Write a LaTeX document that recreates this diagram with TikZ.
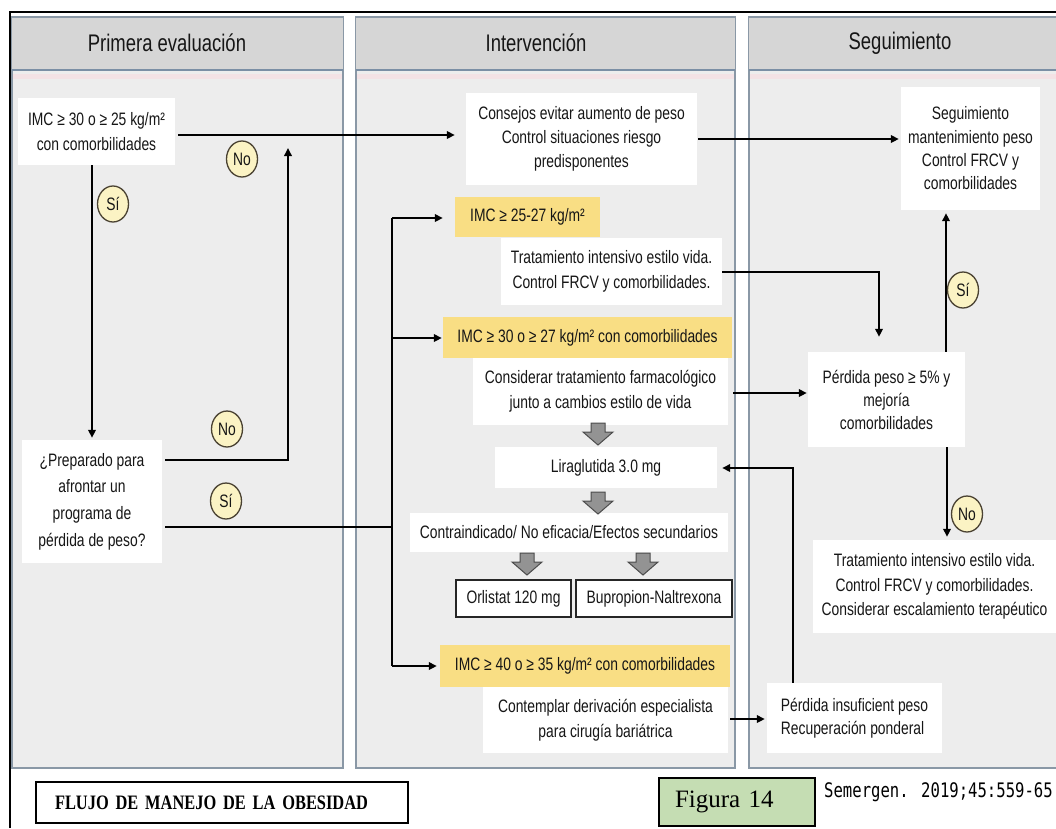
\documentclass[tikz,border=0pt]{standalone}
\usepackage{fontspec}
\setmainfont{Liberation Sans}[FakeStretch=0.77]
\newfontfamily\captionserif{Liberation Serif}
\newfontfamily\captionserifnarrow{Liberation Serif}[FakeStretch=0.8]
\newfontfamily\citemono{DejaVu Sans Mono}[FakeStretch=0.78]
\usetikzlibrary{arrows.meta,shapes.geometric}

\definecolor{colfill}{HTML}{EDEDED}
\definecolor{headfill}{HTML}{D6D6D6}
\definecolor{colline}{HTML}{8A98A6}
\definecolor{headline}{HTML}{7B8FA5}
\definecolor{pinkband}{HTML}{F3E2E5}
\definecolor{bmiyellow}{HTML}{F9DE84}
\definecolor{tagfill}{HTML}{FBF3C4}
\definecolor{tagline}{HTML}{4A4232}
\definecolor{figgreen}{HTML}{C5DDB3}
\definecolor{txt}{HTML}{161616}
\definecolor{blockgray}{HTML}{939393}

\tikzset{
  downblock/.pic={
    \draw[draw=black!70, fill=blockgray, line width=1pt]
      (-7,0) -- (7,0) -- (7,9) -- (15,9) -- (0,22) -- (-15,9) -- (-7,9) -- cycle;
  }
}

\begin{document}
\begin{tikzpicture}[x=1pt,y=-1pt,
  txtbase/.style={font=\fontsize{18}{24}\selectfont, text=txt, align=center, inner sep=0pt},
  whitebox/.style={txtbase, fill=white},
  yellowbox/.style={txtbase, fill=bmiyellow},
  drugbox/.style={txtbase, fill=white, draw=black!85, line width=1.3pt},
  tag/.style={ellipse, draw=tagline, fill=tagfill, line width=1.3pt,
    minimum width=31, minimum height=36, inner sep=0pt,
    font=\fontsize{18}{20}\selectfont, text=txt},
  column/.style={fill=colfill, draw=colline, line width=1.3pt},
  header/.style={font=\fontsize{24}{26}\selectfont, text=txt, inner sep=0pt},
  conn/.style={draw=black, line width=1.8pt},
  arr/.style={conn, -{Triangle[length=8pt,width=7.5pt]}}
]
\useasboundingbox (0,0) rectangle (1056,828);
\fill[white] (0,0) rectangle (1056,828);

% three swimlanes with their header bands
\foreach \xa/\xb in {12/343, 356/735, 749/1064}{
  \draw[column] (\xa,17) rectangle (\xb,768);
  \fill[headfill] (\xa,17) rectangle (\xb,70);
  \draw[colline, line width=1.3pt] (\xa,17) -- (\xb,17);
  \draw[pinkband, line width=5pt] ([xshift=1pt]\xa,76) -- ([xshift=-1pt]\xb,76);
  \draw[headline, line width=2pt] (\xa,70) -- (\xb,70);
}
\node[header] (h1) at (167,43) {Primera evaluación};
\node[header] (h2) at (536,43) {Intervención};
\node[header] (h3) at (900,43) {Seguimiento};

% outer frame
\draw[black, line width=2.5pt] (10,828) -- (10,12) -- (1056,12);

% first assessment
\node[whitebox, minimum width=157, minimum height=67, font=\fontsize{18}{25}\selectfont]
  (A) at (96.5,131.5) {IMC ≥ 30 o ≥ 25 kg/m²\\con comorbilidades};
\node[whitebox, minimum width=140, minimum height=123, font=\fontsize{18}{26.7}\selectfont]
  (B) at (92,501.5) {¿Preparado para\\afrontar un\\programa de\\pérdida de peso?};

% intervention
\node[whitebox, minimum width=231, minimum height=92]
  (C) at (581.5,139) {Consejos evitar aumento de peso\\Control situaciones riesgo\\predisponentes};
\node[yellowbox, minimum width=145, minimum height=40]
  (D) at (527.5,217) {IMC ≥ 25-27 kg/m²};
\node[whitebox, minimum width=221, minimum height=67, font=\fontsize{18}{25}\selectfont]
  (E) at (611.5,271.5) {Tratamiento intensivo estilo vida.\\Control FRCV y comorbilidades.};
\node[yellowbox, minimum width=289, minimum height=41]
  (F) at (587.5,337.5) {IMC ≥ 30 o ≥ 27 kg/m² con comorbilidades};
\node[whitebox, minimum width=255, minimum height=67, font=\fontsize{18}{25}\selectfont]
  (G) at (600.5,391.5) {Considerar tratamiento farmacológico\\junto a cambios estilo de vida};
\node[whitebox, minimum width=222, minimum height=41]
  (H) at (606,467.5) {Liraglutida 3.0 mg};
\node[whitebox, minimum width=318, minimum height=39]
  (I) at (569,532.5) {Contraindicado/ No eficacia/Efectos secundarios};
\node[drugbox, minimum width=115, minimum height=37]
  (J) at (513.5,598.5) {Orlistat 120 mg};
\node[drugbox, minimum width=156, minimum height=37]
  (K) at (654,598.5) {Bupropion-Naltrexona};
\node[yellowbox, minimum width=290, minimum height=42]
  (L) at (585,666) {IMC ≥ 40 o ≥ 35 kg/m² con comorbilidades};
\node[whitebox, minimum width=245, minimum height=66, font=\fontsize{18}{25}\selectfont]
  (M) at (605.5,720) {Contemplar derivación especialista\\para cirugía bariátrica};

% block arrows between drug steps
\pic at (598,423) {downblock};
\pic at (598,492) {downblock};
\pic at (527,553) {downblock};
\pic at (643,553) {downblock};

% follow-up
\node[whitebox, minimum width=139, minimum height=123, font=\fontsize{18}{23.3}\selectfont]
  (N) at (970.5,148.5) {Seguimiento\\mantenimiento peso\\Control FRCV y\\comorbilidades};
\node[whitebox, minimum width=157, minimum height=95, font=\fontsize{18}{23}\selectfont]
  (O) at (886.5,399.5) {Pérdida peso ≥ 5\% y\\mejoría\\comorbilidades};
\node[whitebox, minimum width=243, minimum height=93, font=\fontsize{18}{24.5}\selectfont]
  (P) at (934.5,586.5) {Tratamiento intensivo estilo vida.\\Control FRCV y comorbilidades.\\Considerar escalamiento terapéutico};
\node[whitebox, minimum width=175, minimum height=70, align=left, font=\fontsize{18}{23}\selectfont]
  (Q) at (854.5,718) {Pérdida insuficient peso\\Recuperación ponderal};

% junction points of the routed connectors
\coordinate (jTop) at (288,135);
\coordinate (jNo)  at (288,460);
\coordinate (jSi)  at (392,527);
\coordinate (bus1) at (392,218);
\coordinate (bus2) at (392,338);
\coordinate (bus3) at (392,666);
\coordinate (jE)   at (879,272);
\coordinate (jG)   at (800,393);
\coordinate (jUp)  at (946,300);
\coordinate (jDn)  at (947,500);
\coordinate (jQ)   at (793,468);
\coordinate (jM)   at (750,719);

% first assessment connectors
\draw[arr, shorten >=11pt] ([xshift=3pt]A.east |- jTop) -- (C.west |- jTop);
\draw[arr, shorten >=2pt] (A.south -| B.north) -- (B.north);
\draw[arr, shorten >=13pt] ([xshift=3pt]B.east |- jNo) -- (jNo) -- (jTop);
\draw[conn] ([xshift=3pt]B.east |- jSi) -- (jSi);
\draw[conn] (bus1) -- (bus3);
\draw[arr, shorten >=12pt] (bus1) -- (D.west |- bus1);
\draw[arr, shorten >=1pt] (bus2) -- (F.west |- bus2);
\draw[arr, shorten >=3pt] (bus3) -- (L.west |- bus3);

% intervention to follow-up
\draw[arr, shorten >=2pt] ([xshift=1pt]C.east) -- (N.west |- C.east);
\draw[arr, shorten >=15pt] (E.east |- jE) -- (jE) -- (jE |- O.north);
\draw[arr, shorten >=1pt] ([xshift=5pt]G.east |- jG) -- (O.west |- jG);
\draw[arr, shorten >=3pt] (O.north -| jUp) -- (N.south -| jUp);
\draw[arr, shorten >=3pt] (O.south -| jDn) -- (P.north -| jDn);
\draw[arr, shorten >=2pt] ([xshift=2pt]M.east |- jM) -- (Q.west |- jM);
\draw[arr, shorten >=5pt] (Q.north -| jQ) -- (jQ) -- (H.east |- jQ);

% decision tags
\node[tag] (t1) at (113,204) {Sí};
\node[tag] (t2) at (242,159) {No};
\node[tag] (t3) at (227,429) {No};
\node[tag] (t4) at (226,501) {Sí};
\node[tag] (t5) at (963,290) {Sí};
\node[tag] (t6) at (967,514) {No};

% footer
\node[draw=black, line width=1.3pt, fill=white, minimum height=41, text width=334,
  inner xsep=19pt, inner ysep=0pt, align=left,
  font=\captionserifnarrow\bfseries\fontsize{20.5}{22}\selectfont]
  (title) at (222,802.5) {FLUJO DE MANEJO DE LA OBESIDAD};
\node[draw=black, line width=1.3pt, fill=figgreen, minimum height=48, text width=124,
  inner xsep=16pt, inner ysep=0pt, align=left,
  font=\captionserif\fontsize{25}{27}\selectfont]
  (fig) at (737,802) {Figura 14};
\node[anchor=west, inner sep=0pt, font=\citemono\fontsize{20}{22}\selectfont]
  (cite) at (824,792) {Semergen. 2019;45:559-65};
\end{tikzpicture}
\end{document}
